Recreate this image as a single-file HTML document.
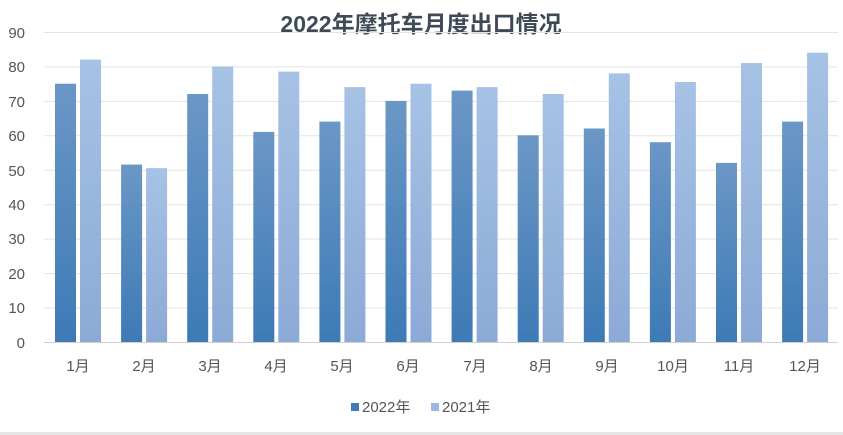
<!DOCTYPE html>
<html><head><meta charset="utf-8"><style>body{margin:0;background:#fff}svg{display:block}text{font-family:"Liberation Sans","Noto Sans CJK SC",sans-serif}</style></head><body>
<svg width="843" height="435" viewBox="0 0 843 435">
<defs>
<linearGradient id="a" x1="0" y1="0" x2="0" y2="1"><stop offset="0" stop-color="#6b97c6"/><stop offset="1" stop-color="#3d7ab6"/></linearGradient>
<linearGradient id="b" x1="0" y1="0" x2="0" y2="1"><stop offset="0" stop-color="#a6c2e5"/><stop offset="1" stop-color="#8caad6"/></linearGradient>
</defs>
<rect x="0" y="432" width="843" height="3" fill="#e6e6e6"/>
<text x="421" y="32" text-anchor="middle" font-size="23" font-weight="bold" fill="#404a56">2022年摩托车月度出口情况</text>
<g stroke="#e3e3e3" stroke-width="1">
<line x1="44" x2="838" y1="32.5" y2="32.5"/><line x1="44" x2="838" y1="66.9" y2="66.9"/><line x1="44" x2="838" y1="101.4" y2="101.4"/><line x1="44" x2="838" y1="135.8" y2="135.8"/><line x1="44" x2="838" y1="170.2" y2="170.2"/><line x1="44" x2="838" y1="204.7" y2="204.7"/><line x1="44" x2="838" y1="239.1" y2="239.1"/><line x1="44" x2="838" y1="273.6" y2="273.6"/><line x1="44" x2="838" y1="308" y2="308"/><line x1="44" x2="838" y1="342.5" y2="342.5" stroke="#d0d0d0"/>
</g>
<g font-size="15" fill="#555" text-anchor="end">
<text x="25" y="38">90</text><text x="25" y="72">80</text><text x="25" y="107">70</text><text x="25" y="141">60</text><text x="25" y="176">50</text><text x="25" y="210">40</text><text x="25" y="244">30</text><text x="25" y="279">20</text><text x="25" y="313">10</text><text x="25" y="348">0</text>
</g>
<g fill="url(#a)">
<rect x="55" y="83.7" width="21" height="258.3"/><rect x="121.1" y="164.6" width="21" height="177.4"/><rect x="187.2" y="94" width="21" height="248"/><rect x="253.3" y="131.9" width="21" height="210.1"/><rect x="319.4" y="121.6" width="21" height="220.4"/><rect x="385.5" y="100.9" width="21" height="241.1"/><rect x="451.6" y="90.6" width="21" height="251.4"/><rect x="517.7" y="135.3" width="21" height="206.7"/><rect x="583.8" y="128.5" width="21" height="213.5"/><rect x="649.9" y="142.2" width="21" height="199.8"/><rect x="716" y="162.9" width="21" height="179.1"/><rect x="782.1" y="121.6" width="21" height="220.4"/>
</g>
<g fill="url(#b)">
<rect x="80" y="59.6" width="21" height="282.4"/><rect x="146.1" y="168.1" width="21" height="173.9"/><rect x="212.2" y="66.5" width="21" height="275.5"/><rect x="278.3" y="71.6" width="21" height="270.4"/><rect x="344.4" y="87.1" width="21" height="254.9"/><rect x="410.5" y="83.7" width="21" height="258.3"/><rect x="476.6" y="87.1" width="21" height="254.9"/><rect x="542.7" y="94" width="21" height="248"/><rect x="608.8" y="73.4" width="21" height="268.6"/><rect x="674.9" y="82" width="21" height="260"/><rect x="741" y="63" width="21" height="279"/><rect x="807.1" y="52.7" width="21" height="289.3"/>
</g>
<g font-size="15" fill="#555" text-anchor="middle">
<text x="78" y="371">1月</text><text x="144" y="371">2月</text><text x="210" y="371">3月</text><text x="276" y="371">4月</text><text x="342" y="371">5月</text><text x="408" y="371">6月</text><text x="475" y="371">7月</text><text x="541" y="371">8月</text><text x="607" y="371">9月</text><text x="673" y="371">10月</text><text x="739" y="371">11月</text><text x="805" y="371">12月</text>
</g>
<rect x="351" y="403" width="8" height="8" fill="#3f7bb5"/>
<text x="362" y="412" font-size="15" fill="#555">2022年</text>
<rect x="431" y="403" width="8" height="8" fill="#98b8e0"/>
<text x="442" y="412" font-size="15" fill="#555">2021年</text>
</svg>
</body></html>
